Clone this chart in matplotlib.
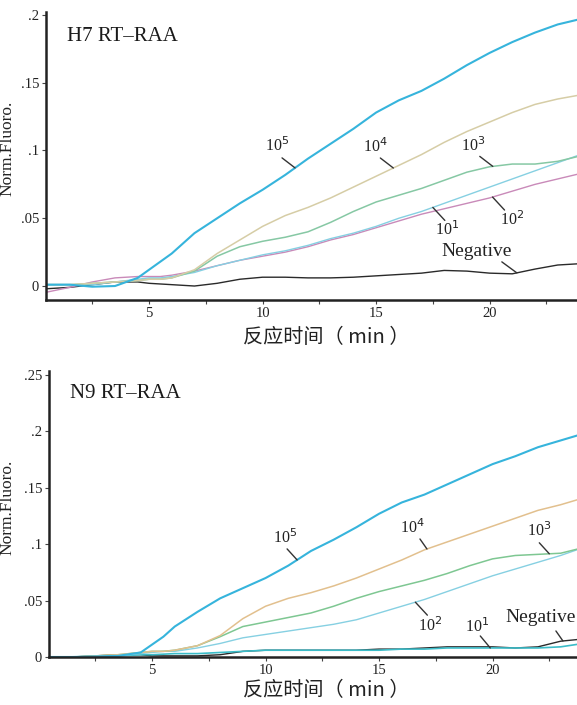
import matplotlib
matplotlib.use('Agg')
import matplotlib.pyplot as plt
from matplotlib.ticker import MultipleLocator
import numpy as np

# reaction time (min)
t = [0.5, 1.5, 2.5, 3.5, 4.5, 5, 5.5, 6, 7, 8, 9, 10, 11, 12, 13, 14, 15,
     16, 17, 18, 19, 20, 21, 22, 23, 24]

# H7 RT-RAA
h7_1e5 = [0.001, 0.001, -0.0005, 0.0, 0.006, 0.012, 0.018, 0.024, 0.039, 0.050,
          0.061, 0.071, 0.082, 0.094, 0.105, 0.116, 0.128, 0.137, 0.144, 0.153,
          0.163, 0.172, 0.180, 0.187, 0.193, 0.197]
h7_1e4 = [0.001, 0.001, 0.002, 0.003, 0.004, 0.005, 0.005, 0.006, 0.012, 0.024,
          0.034, 0.044, 0.052, 0.058, 0.065, 0.073, 0.081, 0.089, 0.097, 0.106,
          0.114, 0.121, 0.128, 0.134, 0.138, 0.141]
h7_1e3 = [0.001, 0.001, 0.002, 0.003, 0.004, 0.005, 0.005, 0.006, 0.011, 0.022,
          0.029, 0.033, 0.036, 0.040, 0.047, 0.055, 0.062, 0.067, 0.072, 0.078,
          0.084, 0.088, 0.090, 0.090, 0.092, 0.096]
h7_1e2 = [-0.0045, -0.001, 0.003, 0.006, 0.007, 0.007, 0.007, 0.008, 0.011, 0.015,
          0.019, 0.022, 0.025, 0.029, 0.034, 0.038, 0.043, 0.048, 0.053, 0.057,
          0.061, 0.065, 0.070, 0.075, 0.079, 0.083]
h7_1e1 = [0.001, 0.001, 0.001, 0.003, 0.005, 0.006, 0.006, 0.007, 0.010, 0.015,
          0.019, 0.023, 0.026, 0.030, 0.035, 0.039, 0.044, 0.050, 0.055, 0.061,
          0.067, 0.073, 0.079, 0.085, 0.091, 0.097]
h7_neg = [-0.002, -0.001, 0.001, 0.003, 0.003, 0.002, 0.0015, 0.001, 0.0, 0.002,
          0.005, 0.0065, 0.0065, 0.006, 0.006, 0.0065, 0.0075, 0.0085, 0.0095,
          0.0115, 0.011, 0.0095, 0.009, 0.0125, 0.0155, 0.0165]

# N9 RT-RAA
n9_1e5 = [0.0, 0.0, 0.0005, 0.001, 0.004, 0.011, 0.018, 0.027, 0.040, 0.052,
          0.061, 0.070, 0.081, 0.094, 0.104, 0.115, 0.127, 0.137, 0.144, 0.153,
          0.162, 0.171, 0.178, 0.186, 0.192, 0.198]
n9_1e4 = [0.0, 0.0, 0.001, 0.002, 0.004, 0.005, 0.005, 0.006, 0.010, 0.019,
          0.034, 0.045, 0.052, 0.057, 0.063, 0.070, 0.078, 0.086, 0.095, 0.102,
          0.109, 0.116, 0.123, 0.130, 0.135, 0.141]
n9_1e3 = [0.0, 0.0, 0.001, 0.002, 0.004, 0.005, 0.005, 0.006, 0.010, 0.018,
          0.027, 0.031, 0.035, 0.039, 0.045, 0.052, 0.058, 0.063, 0.068, 0.074,
          0.081, 0.087, 0.090, 0.091, 0.092, 0.097]
n9_1e2 = [0.0, 0.0, 0.0005, 0.001, 0.003, 0.004, 0.005, 0.005, 0.008, 0.012,
          0.017, 0.020, 0.023, 0.026, 0.029, 0.033, 0.039, 0.045, 0.051, 0.058,
          0.065, 0.072, 0.078, 0.084, 0.090, 0.097]
n9_1e1 = [0.0, 0.0, 0.0, 0.001, 0.002, 0.002, 0.0025, 0.003, 0.003, 0.004,
          0.005, 0.006, 0.006, 0.006, 0.006, 0.006, 0.006, 0.007, 0.007, 0.008,
          0.008, 0.008, 0.008, 0.008, 0.009, 0.012]
n9_neg = [0.0, 0.0, 0.001, 0.002, 0.002, 0.001, 0.001, 0.001, 0.001, 0.002,
          0.005, 0.006, 0.006, 0.006, 0.006, 0.006, 0.007, 0.007, 0.008, 0.009,
          0.009, 0.009, 0.008, 0.009, 0.014, 0.016]

xticks = [5, 10, 15, 20]
h7_yticks = [0, 0.05, 0.1, 0.15, 0.2]
h7_ylabels = ['0', '.05', '.1', '.15', '.2']
n9_yticks = [0, 0.05, 0.1, 0.15, 0.2, 0.25]
n9_ylabels = ['0', '.05', '.1', '.15', '.2', '.25']

SERIF = ['Liberation Serif', 'DejaVu Serif']
CJK = ['Noto Sans CJK SC', 'DejaVu Sans']
PX = 0.72  # points per pixel at dpi 100

fig = plt.figure(figsize=(5.77, 7.05), dpi=100)


def style_axes(ax, xlim, ylim, yticks, ylabels, title, ylab_xy, xlab_xy, title_y):
    ax.set_xlim(*xlim)
    ax.set_ylim(*ylim)
    for s in ['top', 'right']:
        ax.spines[s].set_visible(False)
    for s in ['left', 'bottom']:
        ax.spines[s].set_linewidth(1.8)
        ax.spines[s].set_color('#222222')
    ax.set_xticks(xticks)
    ax.xaxis.set_minor_locator(MultipleLocator(2.5))
    ax.set_yticks(yticks)
    ax.set_yticklabels(ylabels)
    ax.tick_params(axis='both', which='both', direction='out', length=3,
                   width=0.8, color='#444444', labelsize=10.5, pad=2)
    for lab in ax.get_xticklabels() + ax.get_yticklabels():
        lab.set_fontfamily(SERIF)
        lab.set_color('#222222')
    ax.set_ylabel('Norm.Fluoro.', family=SERIF, fontsize=12.5, color='#222222')
    ax.yaxis.set_label_coords(*ylab_xy)
    ax.set_xlabel('反应时间（ min ）', family=CJK, fontsize=14.5, color='#222222')
    ax.xaxis.set_label_coords(*xlab_xy)
    ax.text(0.04, title_y, title, transform=ax.transAxes, family=SERIF,
            fontsize=15, color='#1a1a1a', va='center')


def label(ax, x, series, text, text_px, line_px, size=11.5):
    # leader line from a point near the text to the curve, then the text itself
    y = np.interp(x, t, series)
    ax.annotate('', xy=(x, y), xytext=(line_px[0] * PX, line_px[1] * PX),
                textcoords='offset points', annotation_clip=False,
                arrowprops=dict(arrowstyle='-', color='#333333', lw=1.0,
                                shrinkA=0, shrinkB=0))
    ax.annotate(text, xy=(x, y), xytext=(text_px[0] * PX, text_px[1] * PX),
                textcoords='offset points', ha='center', va='center',
                family=SERIF, fontsize=size, color='#222222',
                annotation_clip=False)


# top panel
ax1 = fig.add_axes([0.0797, 0.5745, 0.9203, 0.4085])
ax1.plot(t, h7_neg, color='#2a2a2a', lw=1.0)
ax1.plot(t, h7_1e2, color='#c98ab9', lw=1.0)
ax1.plot(t, h7_1e1, color='#86d0e2', lw=1.0)
ax1.plot(t, h7_1e3, color='#86c8a4', lw=1.1)
ax1.plot(t, h7_1e4, color='#d6cda6', lw=1.1)
ax1.plot(t, h7_1e5, color='#36b4dc', lw=1.5)
style_axes(ax1, (0.46, 23.85), (-0.0103, 0.2022), h7_yticks, h7_ylabels,
           'H7 RT–RAA', (-0.058, 0.528), (0.527, -0.095), 0.915)
label(ax1, 11.43, h7_1e5, '10$^5$', (-18, 22), (-13, 10))
label(ax1, 15.76, h7_1e4, '10$^4$', (-18, 21), (-13, 10))
label(ax1, 20.14, h7_1e3, '10$^3$', (-20, 21), (-13, 10))
label(ax1, 17.5, h7_1e1, '10$^1$', (14, -22), (12, -13))
label(ax1, 20.13, h7_1e2, '10$^2$', (20, -23), (12, -13))
label(ax1, 21.2, h7_neg, 'Negative', (-40, 21), (-15, 11), size=14)

# bottom panel
ax2 = fig.add_axes([0.0849, 0.0681, 0.9151, 0.4057])
ax2.plot(t, n9_neg, color='#2a2a2a', lw=1.0)
ax2.plot(t, n9_1e1, color='#3bbcc8', lw=1.2)
ax2.plot(t, n9_1e2, color='#86d0e2', lw=1.0)
ax2.plot(t, n9_1e3, color='#7ec792', lw=1.1)
ax2.plot(t, n9_1e4, color='#e2c08e', lw=1.1)
ax2.plot(t, n9_1e5, color='#36b4dc', lw=1.5)
style_axes(ax2, (0.46, 23.72), (0, 0.2536), n9_yticks, n9_ylabels,
           'N9 RT–RAA', (-0.064, 0.524), (0.525, -0.082), 0.92)
label(ax2, 11.39, n9_1e5, '10$^5$', (-12, 22), (-10, 11))
label(ax2, 17.11, n9_1e4, '10$^4$', (-15, 21), (-7, 10))
label(ax2, 22.5, n9_1e3, '10$^3$', (-10, 23), (-10, 11))
label(ax2, 16.6, n9_1e2, '10$^2$', (15, -23), (12, -13))
label(ax2, 19.9, n9_1e1, '10$^1$', (-13, 21), (-10, 12))
label(ax2, 23.1, n9_neg, 'Negative', (-22, 23), (-7, 10), size=14)

fig.savefig('out.png', dpi=100)
